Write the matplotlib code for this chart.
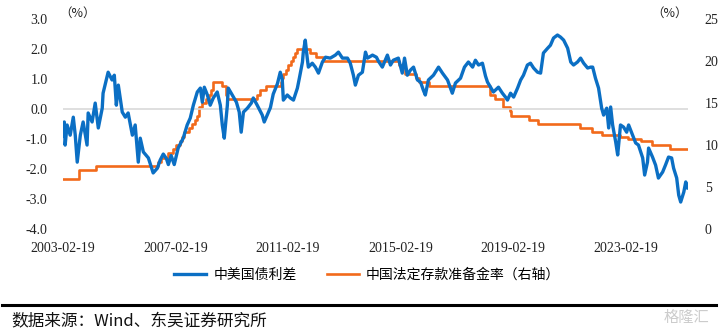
import matplotlib
matplotlib.use("Agg")
import matplotlib.pyplot as plt
import pandas as pd

plt.rcParams['font.family'] = ['Liberation Serif', 'Noto Sans CJK SC', 'DejaVu Sans']

# -----------------------------
# DATA: China-US 10y spread (decimal year, %)
# -----------------------------
spread_years = [
    2003.14, 2003.18, 2003.21, 2003.28, 2003.39, 2003.50, 2003.57, 2003.64, 2003.75, 2003.85,
    2003.99, 2004.03, 2004.17, 2004.28, 2004.39, 2004.53, 2004.56, 2004.74, 2004.88, 2004.96,
    2005.03, 2005.10, 2005.24, 2005.35, 2005.45, 2005.60, 2005.70, 2005.81, 2005.88, 2005.99,
    2006.17, 2006.34, 2006.49, 2006.59, 2006.70, 2006.81, 2006.88, 2006.98, 2007.09, 2007.23,
    2007.41, 2007.55, 2007.66, 2007.77, 2007.91, 2008.02, 2008.09, 2008.16, 2008.27, 2008.37,
    2008.48, 2008.62, 2008.73, 2008.80, 2008.87, 2008.98, 2009.01, 2009.15, 2009.30, 2009.40,
    2009.47, 2009.55, 2009.69, 2009.83, 2009.90, 2010.04, 2010.22, 2010.29, 2010.44, 2010.51,
    2010.61, 2010.76, 2010.86, 2010.93, 2010.97, 2011.11, 2011.22, 2011.33, 2011.47, 2011.54,
    2011.65, 2011.68, 2011.75, 2011.82, 2011.86, 2012.00, 2012.11, 2012.22, 2012.36, 2012.47,
    2012.64, 2012.82, 2012.93, 2013.07, 2013.25, 2013.35, 2013.46, 2013.53, 2013.64, 2013.78,
    2013.89, 2013.96, 2014.14, 2014.28, 2014.35, 2014.49, 2014.67, 2014.78, 2014.88, 2015.06,
    2015.20, 2015.28, 2015.38, 2015.49, 2015.60, 2015.74, 2015.85, 2015.95, 2016.02, 2016.13,
    2016.31, 2016.49, 2016.63, 2016.81, 2016.98, 2017.09, 2017.27, 2017.41, 2017.55, 2017.70,
    2017.80, 2017.91, 2018.05, 2018.16, 2018.23, 2018.34, 2018.44, 2018.62, 2018.76, 2018.87,
    2018.94, 2019.05, 2019.16, 2019.30, 2019.41, 2019.51, 2019.65, 2019.76, 2019.87, 2020.01,
    2020.12, 2020.22, 2020.37, 2020.47, 2020.58, 2020.72, 2020.83, 2020.94, 2021.08, 2021.19,
    2021.29, 2021.43, 2021.54, 2021.65, 2021.79, 2021.90, 2021.97, 2022.07, 2022.18, 2022.29,
    2022.36, 2022.47, 2022.54, 2022.61, 2022.68, 2022.79, 2022.86, 2022.96, 2023.07, 2023.18,
    2023.25, 2023.39, 2023.50, 2023.60, 2023.75, 2023.82, 2023.92, 2023.96, 2024.10, 2024.21,
    2024.31, 2024.46, 2024.56, 2024.67, 2024.78, 2024.85, 2024.96, 2025.03, 2025.10, 2025.21,
    2025.28, 2025.35,
]
spread_values = [
    -0.90, -0.43, -1.20, -0.53, -0.87, -0.27, -0.87, -1.77, -0.87, -0.43,
    -1.20, -0.13, -0.43, 0.20, -0.63, 0.03, 0.53, 1.23, 0.97, 1.13,
    0.13, 0.80, -0.10, -0.27, -0.13, -0.87, -0.53, -1.77, -0.97, -1.43,
    -1.63, -2.13, -1.97, -1.70, -1.50, -1.65, -1.85, -1.55, -1.85, -1.30,
    -0.97, -0.53, -0.30, 0.13, 0.57, 0.70, 0.23, 0.73, 0.47, 0.13,
    0.37, 0.57, 0.13, -0.53, -0.97, 0.13, 0.70, 0.47, 0.23, -0.10,
    -0.77, -0.10, 0.03, 0.20, 0.37, 0.13, -0.20, -0.43, -0.10, 0.05,
    0.50, 0.85, 1.23, 1.00, 0.30, 0.47, 0.37, 0.30, 0.70, 1.03,
    1.57, 1.90, 2.30, 1.70, 1.40, 1.53, 1.40, 1.20, 1.57, 1.73,
    1.70, 1.80, 1.90, 1.70, 1.70, 1.53, 1.13, 0.80, 1.13, 1.23,
    1.90, 1.70, 1.80, 1.73, 1.60, 1.40, 1.80, 1.47, 1.63, 1.70,
    1.20, 1.70, 1.13, 1.30, 1.40, 0.97, 0.90, 0.63, 0.47, 0.97,
    1.13, 1.40, 1.20, 0.97, 0.53, 0.87, 1.03, 1.40, 1.57, 1.40,
    1.63, 1.47, 1.53, 1.10, 0.90, 0.73, 0.57, 0.73, 0.53, 0.40,
    0.30, 0.53, 0.40, 0.70, 0.97, 1.13, 1.47, 1.53, 1.37, 1.23,
    1.20, 1.87, 2.03, 2.13, 2.37, 2.47, 2.40, 2.30, 2.03, 1.57,
    1.47, 1.57, 1.70, 1.53, 1.37, 1.40, 1.40, 1.03, 0.70, 0.03,
    -0.20, 0.03, -0.63, 0.07, -0.53, -1.10, -1.53, -0.53, -0.60, -0.77,
    -0.53, -0.87, -1.13, -1.20, -1.63, -2.20, -1.77, -1.30, -1.60, -1.87,
    -2.30, -2.10, -1.87, -1.60, -1.63, -1.97, -2.30, -2.87, -3.10, -2.77,
    -2.43, -2.63,
]

# -----------------------------
# DATA: China required reserve ratio, large banks (%)
# -----------------------------
rrr_dates = [
    "2003-02-19", "2003-09-21", "2004-04-25", "2006-07-05", "2006-08-15", "2006-11-15",
    "2007-01-15", "2007-02-25", "2007-04-16", "2007-05-15", "2007-06-05", "2007-08-15",
    "2007-09-25", "2007-10-25", "2007-11-26", "2007-12-25", "2008-01-25", "2008-03-25",
    "2008-04-25", "2008-05-20", "2008-06-15", "2008-06-25", "2008-10-15", "2008-12-05",
    "2008-12-25", "2010-01-18", "2010-02-25", "2010-05-10", "2010-11-16", "2010-11-29",
    "2010-12-20", "2011-01-20", "2011-02-24", "2011-03-25", "2011-04-21", "2011-05-18",
    "2011-06-20", "2011-12-05", "2012-02-24", "2012-05-18", "2015-02-05", "2015-04-20",
    "2015-09-06", "2015-10-24", "2016-03-01", "2018-04-25", "2018-07-05", "2018-10-15",
    "2019-01-15", "2019-01-25", "2019-09-16", "2020-01-06", "2021-07-15", "2021-12-15",
    "2022-04-25", "2022-12-05", "2023-03-27", "2023-09-15", "2024-02-05", "2024-09-27",
    "2025-05-10",
]
rrr_values = [
    6.0, 7.0, 7.5, 8.0, 8.5, 9.0,
    9.5, 10.0, 10.5, 11.0, 11.5, 12.0,
    12.5, 13.0, 13.5, 14.5, 15.0, 15.5,
    16.0, 16.5, 17.0, 17.5, 17.0, 16.0,
    15.5, 16.0, 16.5, 17.0, 17.5, 18.0,
    18.5, 19.0, 19.5, 20.0, 20.5, 21.0,
    21.5, 21.0, 20.5, 20.0, 19.5, 18.5,
    18.0, 17.5, 17.0, 16.0, 15.5, 14.5,
    14.0, 13.5, 13.0, 12.5, 12.0, 11.5,
    11.25, 11.0, 10.75, 10.5, 10.0, 9.5,
    9.5,
]

tick_dates = ["2003-02-19", "2007-02-19", "2011-02-19", "2015-02-19", "2019-02-19", "2023-02-19"]
left_ticks = [3, 2, 1, 0, -1, -2, -3, -4]
right_ticks = [25, 20, 15, 10, 5, 0]

BLUE = "#0B6FC4"
ORANGE = "#F26A1B"


def year_to_date(y):
    yr = int(y)
    start = pd.Timestamp(year=yr, month=1, day=1)
    return start + pd.Timedelta(days=(y - yr) * 365.25)


spread_dates = [year_to_date(y) for y in spread_years]

# -----------------------------
# DRAW
# -----------------------------
fig = plt.figure(figsize=(7.2, 3.3), dpi=100)
ax = fig.add_axes([0.0875, 0.306, 0.868, 0.636])
ax2 = ax.twinx()

ax.axhline(0, color="#d9d9d9", lw=1.2, zorder=0)
l1, = ax.plot(spread_dates, spread_values, color=BLUE, lw=2.4, zorder=3)
l2, = ax2.plot(pd.to_datetime(rrr_dates), rrr_values, color=ORANGE, lw=1.9,
               drawstyle="steps-post", zorder=2)
ax.set_zorder(ax2.get_zorder() + 1)
ax.patch.set_visible(False)

ax.set_ylim(-4, 3)
ax2.set_ylim(0, 25)
ax.set_xlim(pd.Timestamp("2003-02-19"), pd.Timestamp("2025-05-12"))

ax.set_yticks(left_ticks)
ax.set_yticklabels([f"{v:.1f}" for v in left_ticks])
ax2.set_yticks(right_ticks)
ax2.set_yticklabels([str(v) for v in right_ticks])
ax.set_xticks(pd.to_datetime(tick_dates))
ax.set_xticklabels(tick_dates)

for a in (ax, ax2):
    for s in a.spines.values():
        s.set_visible(False)
    a.tick_params(length=0, labelsize=10, colors="#222222")
ax.tick_params(axis="y", pad=11)
ax2.tick_params(axis="y", pad=12)
ax.tick_params(axis="x", pad=9)

fig.text(0.083, 0.948, "（%）", fontsize=9, family=['Noto Sans CJK SC'], color="#222222")
fig.text(0.905, 0.948, "（%）", fontsize=9, family=['Noto Sans CJK SC'], color="#222222")

fig.legend([l1, l2], ["中美国债利差", "中国法定存款准备金率（右轴）"],
           loc="center", bbox_to_anchor=(0.51, 0.168), ncol=2, frameon=False,
           prop={"family": ["Noto Sans CJK SC"], "size": 10},
           handlelength=2.3, columnspacing=2.2, handletextpad=0.5)

fig.add_artist(plt.Line2D([0.003, 0.995], [0.075, 0.075], color="black", lw=2.2,
                          transform=fig.transFigure))
fig.text(0.016, 0.026, "数据来源：Wind、东吴证券研究所", fontsize=12,
         family=['Noto Sans CJK SC'], color="#111111", va="center")
fig.text(0.985, 0.038, "格隆汇", fontsize=11, family=['Noto Sans CJK SC'],
         color="#cccccc", ha="right", va="center")

fig.savefig("out.png", dpi=100)
